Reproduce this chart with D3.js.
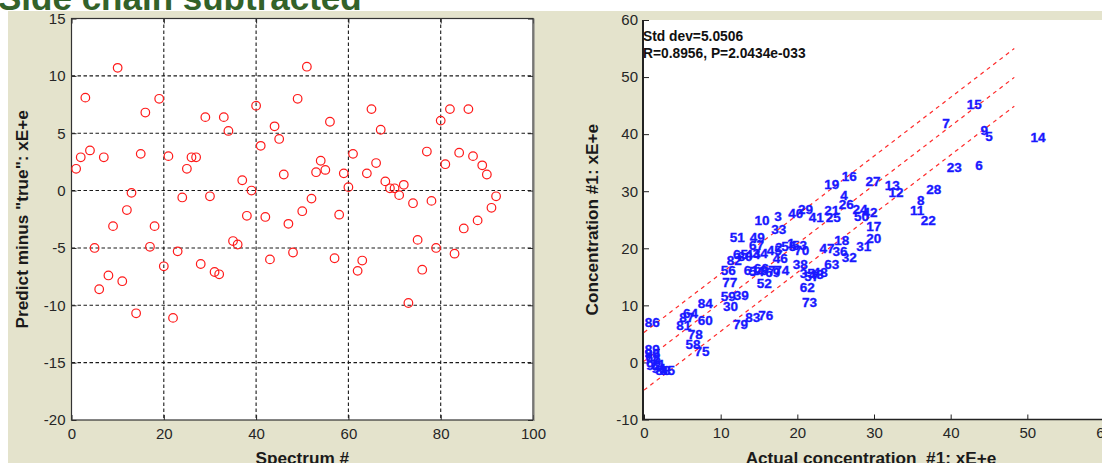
<!DOCTYPE html>
<html>
<head>
<meta charset="utf-8">
<script src="https://cdn.jsdelivr.net/npm/d3@7"></script>
<style>
  html, body { margin: 0; padding: 0; background: #fff; }
  svg { display: block; font-family: Arial, "Liberation Sans", sans-serif; }
</style>
</head>
<body>
<svg id="chart" width="1102" height="463"></svg>
<script>
// spectrum numbers (also the labels in the right plot)
const spectrumNo = [1,2,3,4,5,6,7,8,9,10,11,12,13,14,15,16,17,18,19,20,21,22,23,24,25,26,27,28,29,30,
  31,32,33,34,35,36,37,38,39,40,41,42,43,44,45,46,47,48,49,50,51,52,53,54,55,56,57,58,59,60,
  61,62,63,64,65,66,67,68,69,70,71,72,73,74,75,76,77,78,79,80,81,82,83,84,85,86,87,88,89,90,91,92];

// left plot: predict minus true
const residual = [1.9,2.9,8.1,3.5,-5.0,-8.6,2.9,-7.4,-3.1,10.7,-7.9,-1.7,-0.2,-10.7,3.2,6.8,-4.9,-3.1,8.0,-6.6,
  3.0,-11.1,-5.3,-0.6,1.9,2.9,2.9,-6.4,6.4,-0.5,-7.1,-7.3,6.4,5.2,-4.4,-4.7,0.9,-2.2,0.0,7.4,
  3.9,-2.3,-6.0,5.6,4.5,1.4,-2.9,-5.4,8.0,-1.8,10.8,-0.7,1.6,2.6,1.8,6.0,-5.9,-2.1,1.5,0.3,
  3.2,-7.0,-6.1,1.5,7.1,2.4,5.3,0.8,0.2,0.2,-0.4,0.5,-9.8,-1.1,-4.3,-6.9,3.4,-0.9,-5.0,6.1,
  2.3,7.1,-5.5,3.3,-3.3,7.1,3.0,-2.6,2.2,1.4,-1.5,-0.5];

// right plot: actual vs predicted concentration (label position)
const actualConc = [18.7,17.1,17.0,25.6,44.5,43.2,38.9,35.6,43.9,14.4,34.7,31.9,31.4,50.4,42.1,25.8,29.0,24.8,23.5,29.0,
  23.5,36.1,39.5,27.2,23.7,25.4,28.9,36.8,20.1,10.3,27.7,25.8,16.6,14.2,20.3,24.6,15.2,19.4,11.7,18.8,
  21.5,28.5,21.5,13.2,16.0,16.8,22.9,22.0,13.8,27.4,11.2,14.7,19.3,13.7,17.9,10.0,20.9,5.4,10.0,7.0,
  13.0,20.3,23.5,5.1,11.6,14.3,13.7,0.2,15.8,19.6,0.8,0.1,20.6,17.0,6.6,14.9,10.2,5.7,11.6,12.2,
  4.2,10.8,13.2,7.0,2.1,0.1,4.6,1.5,0.1,0.1,1.0,0.3];
const predictedConc = [20.9,20.2,25.6,29.3,39.7,34.6,41.9,28.5,40.7,25.0,26.6,29.8,31.0,39.5,45.3,32.6,23.9,21.4,31.2,21.8,
  26.7,24.9,34.2,26.9,25.4,27.8,31.7,30.4,26.9,9.8,20.4,18.4,23.3,19.1,15.7,19.5,16.2,17.2,11.8,26.2,
  25.4,26.3,15.4,19.0,19.6,18.3,20.0,15.8,22.0,25.6,22.0,13.9,20.6,16.0,20.4,16.1,15.2,3.2,11.6,7.4,
  16.2,13.2,17.3,8.7,19.0,16.6,20.5,1.0,15.9,19.6,-0.3,0.6,10.6,16.1,2.0,8.2,14.0,5.0,6.7,18.6,
  6.5,18.0,8.0,10.4,-1.4,7.0,7.9,-1.3,2.4,1.6,-1.0,-0.5];

// fit line and +/- std dev band
const fitIntercept = 0.2;
const fitSlope = 1.03;
const fitBand = 5.05;
const fitRange = [0, 48.3];

const leftXTicks = [0, 20, 40, 60, 80, 100];
const leftYTicks = [-20, -15, -10, -5, 0, 5, 10, 15];
const rightXTicks = [0, 10, 20, 30, 40, 50, 60];
const rightYTicks = [-10, 0, 10, 20, 30, 40, 50, 60];
const statsLines = ['Std dev=5.0506', 'R=0.8956, P=2.0434e-033'];

const svg = d3.select('#chart');
const beige = '#e4e3cc';
const plain = d => String(d);   // hyphen minus like the original

// page background and cut-off slide title
svg.append('rect').attr('x', 8).attr('y', 11).attr('width', 1094).attr('height', 452).attr('fill', beige);
svg.append('text')
  .attr('x', -2).attr('y', 10)
  .attr('font-size', 35).attr('font-weight', 'bold')
  .attr('fill', '#33622a')
  .text('Side chain subtracted');

// ---------- left plot ----------
const L = {left: 71.5, right: 533, top: 18.5, bottom: 420};
const xL = d3.scaleLinear().domain([0, 100]).range([L.left, L.right]);
const yL = d3.scaleLinear().domain([-20, 15]).range([L.bottom, L.top]);

svg.append('rect')
  .attr('x', L.left).attr('y', L.top)
  .attr('width', L.right - L.left).attr('height', L.bottom - L.top)
  .attr('fill', '#fff');

const gridL = svg.append('g').attr('class', 'grid');
gridL.selectAll('line.gx')
  .data(leftXTicks.slice(1, -1))
  .enter().append('line')
    .attr('x1', d => xL(d)).attr('x2', d => xL(d))
    .attr('y1', L.top).attr('y2', L.bottom);
gridL.selectAll('line.gy')
  .data(leftYTicks.slice(1, -1))
  .enter().append('line')
    .attr('x1', L.left).attr('x2', L.right)
    .attr('y1', d => yL(d)).attr('y2', d => yL(d));
gridL.selectAll('line')
  .attr('stroke', '#1a1a1a').attr('stroke-width', 1.1)
  .attr('stroke-dasharray', '3.5,2.5');

function styleAxis(g) {
  g.select('.domain').remove();
  g.selectAll('.tick line').attr('stroke', '#222').attr('stroke-width', 1);
  g.selectAll('.tick text').attr('font-size', 15).attr('fill', '#262626')
    .attr('font-family', 'Arial, "Liberation Sans", sans-serif');
}

svg.append('g').attr('transform', `translate(0,${L.bottom})`)
  .call(d3.axisBottom(xL).tickValues(leftXTicks).tickFormat(plain).tickSizeInner(-5).tickSizeOuter(0).tickPadding(8))
  .call(styleAxis);
svg.append('g').attr('transform', `translate(0,${L.top})`)
  .call(d3.axisTop(xL).tickValues(leftXTicks).tickSizeInner(-5).tickSizeOuter(0).tickFormat(''))
  .call(styleAxis);
svg.append('g').attr('transform', `translate(${L.left},0)`)
  .call(d3.axisLeft(yL).tickValues(leftYTicks).tickFormat(plain).tickSizeInner(-5).tickSizeOuter(0).tickPadding(6))
  .call(styleAxis);
svg.append('g').attr('transform', `translate(${L.right},0)`)
  .call(d3.axisRight(yL).tickValues(leftYTicks).tickSizeInner(-5).tickSizeOuter(0).tickFormat(''))
  .call(styleAxis);

svg.append('rect')
  .attr('x', L.left).attr('y', L.top)
  .attr('width', L.right - L.left).attr('height', L.bottom - L.top)
  .attr('fill', 'none').attr('stroke', '#333').attr('stroke-width', 1.2);
svg.append('line')
  .attr('x1', L.right + 1).attr('x2', L.right + 1)
  .attr('y1', L.top).attr('y2', L.bottom + 1)
  .attr('stroke', '#777').attr('stroke-width', 1);

svg.append('g').selectAll('circle')
  .data(residual)
  .enter().append('circle')
    .attr('cx', (d, i) => xL(spectrumNo[i]))
    .attr('cy', d => yL(d))
    .attr('r', 4.3)
    .attr('fill', 'none')
    .attr('stroke', '#ff1a1a')
    .attr('stroke-width', 1.2);

svg.append('text')
  .attr('x', (L.left + L.right) / 2).attr('y', 464)
  .attr('text-anchor', 'middle')
  .attr('font-size', 17.2).attr('font-weight', 'bold').attr('fill', '#1a1a1a')
  .text('Spectrum #');
svg.append('text')
  .attr('transform', `translate(28,${(L.top + L.bottom) / 2}) rotate(-90)`)
  .attr('text-anchor', 'middle')
  .attr('font-size', 17.2).attr('font-weight', 'bold').attr('fill', '#1a1a1a')
  .text('Predict minus "true": xE+e');

// ---------- right plot ----------
const R = {left: 644, right: 1104, top: 20, bottom: 419.5};
const xR = d3.scaleLinear().domain([0, 60]).range([R.left, R.right]);
const yR = d3.scaleLinear().domain([-10, 60]).range([R.bottom, R.top]);

svg.append('rect')
  .attr('x', R.left).attr('y', R.top)
  .attr('width', R.right - R.left).attr('height', R.bottom - R.top)
  .attr('fill', '#fff');

svg.append('g').attr('transform', `translate(0,${R.bottom})`)
  .call(d3.axisBottom(xR).tickValues(rightXTicks).tickFormat(plain).tickSizeInner(-5).tickSizeOuter(0).tickPadding(8))
  .call(styleAxis);
svg.append('g').attr('transform', `translate(${R.left},0)`)
  .call(d3.axisLeft(yR).tickValues(rightYTicks).tickFormat(plain).tickSizeInner(-5).tickSizeOuter(0).tickPadding(6))
  .call(styleAxis);
svg.append('line')
  .attr('x1', R.left - 1).attr('x2', R.left - 1)
  .attr('y1', R.top).attr('y2', R.bottom + 1)
  .attr('stroke', '#222').attr('stroke-width', 2);
svg.append('line')
  .attr('x1', R.left - 2).attr('x2', R.right)
  .attr('y1', R.bottom).attr('y2', R.bottom)
  .attr('stroke', '#222').attr('stroke-width', 1.5);

// fit line with +/- std dev lines
const fitLines = [fitBand, 0, -fitBand];
svg.append('g').selectAll('line')
  .data(fitLines)
  .enter().append('line')
    .attr('x1', xR(fitRange[0]))
    .attr('x2', xR(fitRange[1]))
    .attr('y1', d => yR(fitIntercept + fitSlope * fitRange[0] + d))
    .attr('y2', d => yR(fitIntercept + fitSlope * fitRange[1] + d))
    .attr('stroke', '#ff2a2a').attr('stroke-width', 1.2)
    .attr('stroke-dasharray', '4,4');

svg.append('g').selectAll('text')
  .data(spectrumNo)
  .enter().append('text')
    .attr('x', (d, i) => xR(actualConc[i]))
    .attr('y', (d, i) => yR(predictedConc[i]))
    .attr('dy', '0.36em')
    .attr('font-size', 13.5).attr('font-weight', 'bold')
    .attr('fill', '#1818ff')
    .attr('stroke', '#1818ff').attr('stroke-width', 0.35)
    .text(d => d);

svg.append('g').selectAll('text')
  .data(statsLines)
  .enter().append('text')
    .attr('x', R.left - 1)
    .attr('y', (d, i) => 36 + i * 17.5)
    .attr('dy', '0.36em')
    .attr('font-size', 13.8).attr('font-weight', 'bold').attr('fill', '#111')
    .text(d => d);

svg.append('text')
  .attr('x', (R.left + R.right) / 2 - 3).attr('y', 464)
  .attr('text-anchor', 'middle')
  .attr('font-size', 17.2).attr('font-weight', 'bold').attr('fill', '#1a1a1a')
  .attr('xml:space', 'preserve')
  .text('Actual concentration  #1: xE+e');
svg.append('text')
  .attr('transform', `translate(598,${(R.top + R.bottom) / 2}) rotate(-90)`)
  .attr('text-anchor', 'middle')
  .attr('font-size', 17.2).attr('font-weight', 'bold').attr('fill', '#1a1a1a')
  .text('Concentration #1: xE+e');
</script>
</body>
</html>
